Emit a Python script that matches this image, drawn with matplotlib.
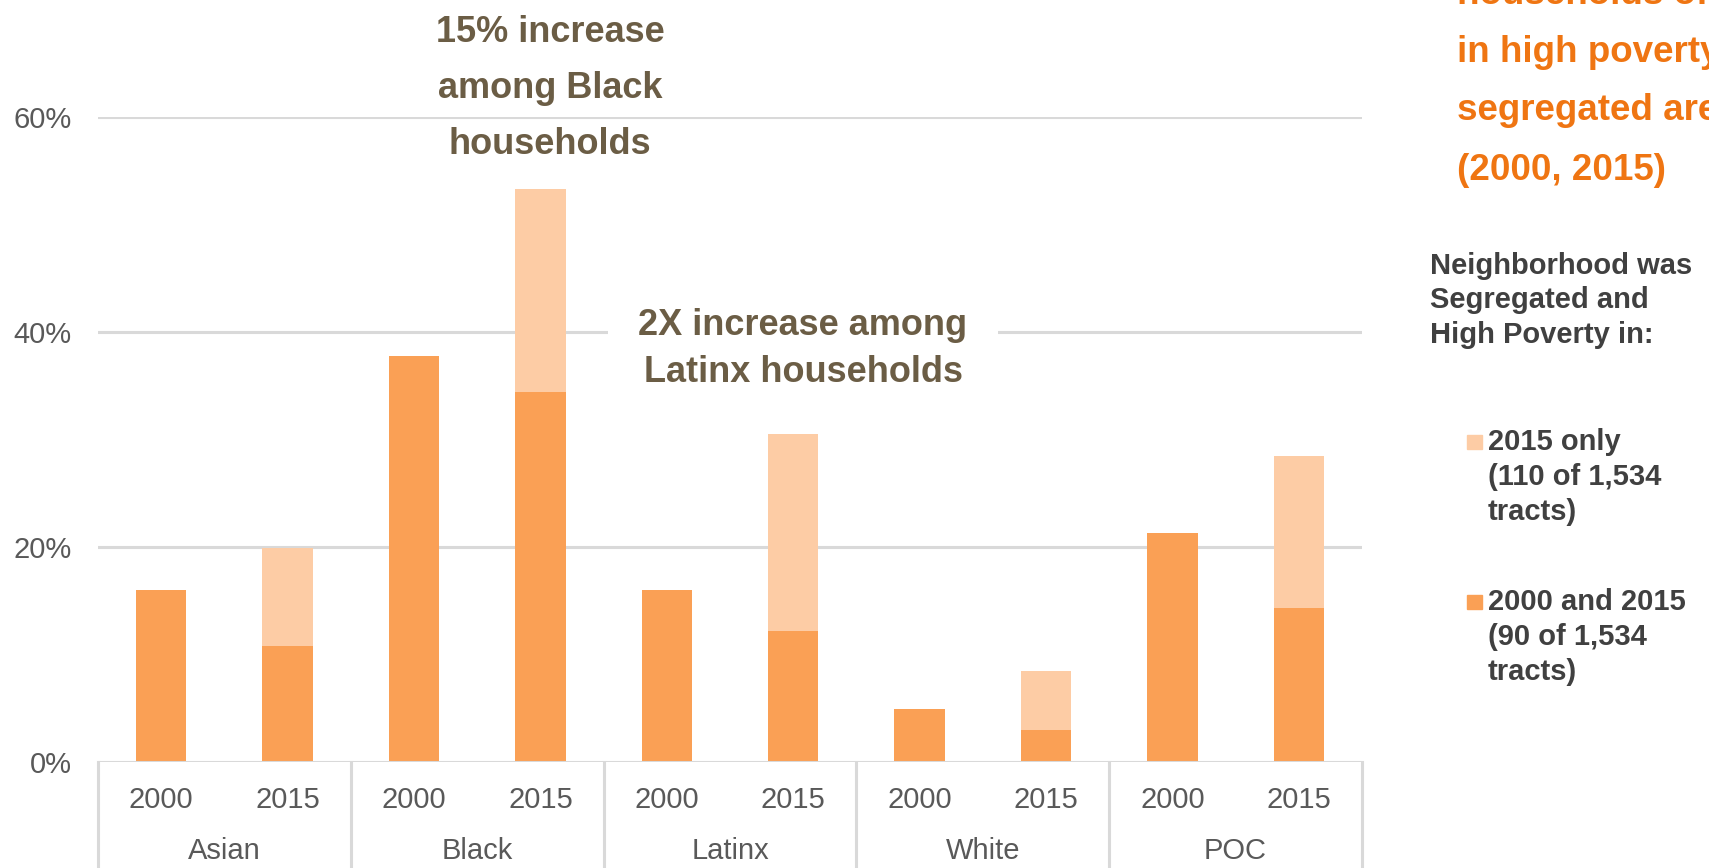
import matplotlib.pyplot as plt
from matplotlib.patches import Rectangle
from matplotlib.transforms import blended_transform_factory

# data (share of households, %)
groups = ['Asian', 'Black', 'Latinx', 'White', 'POC']
years = ['2000', '2015']
both_2000 = [16.0, 37.8, 16.0, 4.9, 21.3]      # 2000 bars
both_2015 = [10.8, 34.4, 12.2, 3.0, 14.3]      # 2015, segregated in 2000 and 2015
only_2015 = [9.1, 18.9, 18.3, 5.5, 14.2]       # 2015, segregated in 2015 only
yticks = [0, 20, 40, 60]

dark = '#FAA055'
light = '#FDCCA5'
grid = '#D9D9D9'
note = '#6B5D45'
orange = '#EF7512'
axcol = '#595959'
font = 'Liberation Sans'

W, H = 1709, 868
AH = 645  # axes height in pixels (0% to 60%)
fig = plt.figure(figsize=(W / 100, H / 100), dpi=100)
ax = fig.add_axes([98 / W, 106 / H, (1362 - 98) / W, AH / H])


def fy(y):
    # pixel row from top -> figure fraction
    return 1 - y / H


# x positions: each group spans one unit
x00 = [i + 0.25 for i in range(len(groups))]
x15 = [i + 0.75 for i in range(len(groups))]
bw = 0.2

ax.bar(x00, both_2000, bw, color=dark, zorder=3)
ax.bar(x15, both_2015, bw, color=dark, zorder=3)
ax.bar(x15, only_2015, bw, bottom=both_2015, color=light, zorder=3)

ax.set_xlim(0, len(groups))
ax.set_ylim(0, 60)
for s in ax.spines.values():
    s.set_visible(False)
ax.set_yticks(yticks)
ax.set_yticklabels(['%d%%' % v for v in yticks], family=font, fontsize=21, color=axcol)
ax.tick_params(axis='y', length=0, pad=19)
ax.set_xticks([])
for v in yticks[1:]:
    ax.axhline(v, color=grid, lw=2.2, zorder=1)
ax.axhline(0, color=grid, lw=2.2, zorder=4)

# category box below the axis
tr = blended_transform_factory(ax.transData, ax.transAxes)
for i in range(len(groups) + 1):
    ax.plot([i, i], [0, -0.3], color=grid, lw=2.2, transform=tr, clip_on=False)
for i, g in enumerate(groups):
    ax.text(x00[i], -38 / AH, years[0], transform=tr, ha='center', va='center',
            family=font, fontsize=21, color=axcol)
    ax.text(x15[i], -38 / AH, years[1], transform=tr, ha='center', va='center',
            family=font, fontsize=21, color=axcol)
    ax.text(i + 0.5, -89 / AH, g, transform=tr, ha='center', va='center',
            family=font, fontsize=21, color=axcol)

# annotations
for y, s in zip([33, 88, 145], ['15% increase', 'among Black', 'households']):
    fig.text(550 / W, fy(y), s, ha='center', va='center', family=font,
             fontweight='bold', fontsize=26, color=note)
fig.text(803 / W, fy(349), '2X increase among\nLatinx households', ha='center',
         va='center', family=font, fontweight='bold', fontsize=26, color=note,
         linespacing=1.45, bbox=dict(facecolor='white', edgecolor='none', pad=22))

# title, cut off by the figure edge
for y, s in zip([-6, 53, 111, 170], ['households of color', 'in high poverty,',
                                     'segregated areas', '(2000, 2015)']):
    fig.text(1457 / W, fy(y), s, ha='left', va='center', family=font,
             fontweight='bold', fontsize=26.5, color=orange)

# legend
for y, s in zip([266, 300, 335], ['Neighborhood was', 'Segregated and', 'High Poverty in:']):
    fig.text(1430 / W, fy(y), s, ha='left', va='center', fontsize=21,
             fontweight='bold', color='#404040', family=font)
leg = [(light, [442, 477, 512], ['2015 only', '(110 of 1,534', 'tracts)']),
       (dark, [602, 637, 672], ['2000 and 2015', '(90 of 1,534', 'tracts)'])]
for c, ys, lines in leg:
    fig.patches.append(Rectangle((1467 / W, fy(ys[0] + 7)), 15 / W, 14 / H,
                                 color=c, transform=fig.transFigure, figure=fig))
    for y, s in zip(ys, lines):
        fig.text(1488 / W, fy(y), s, ha='left', va='center', fontsize=21,
                 fontweight='bold', color='#404040', family=font)

fig.savefig('out.png', dpi=100)
